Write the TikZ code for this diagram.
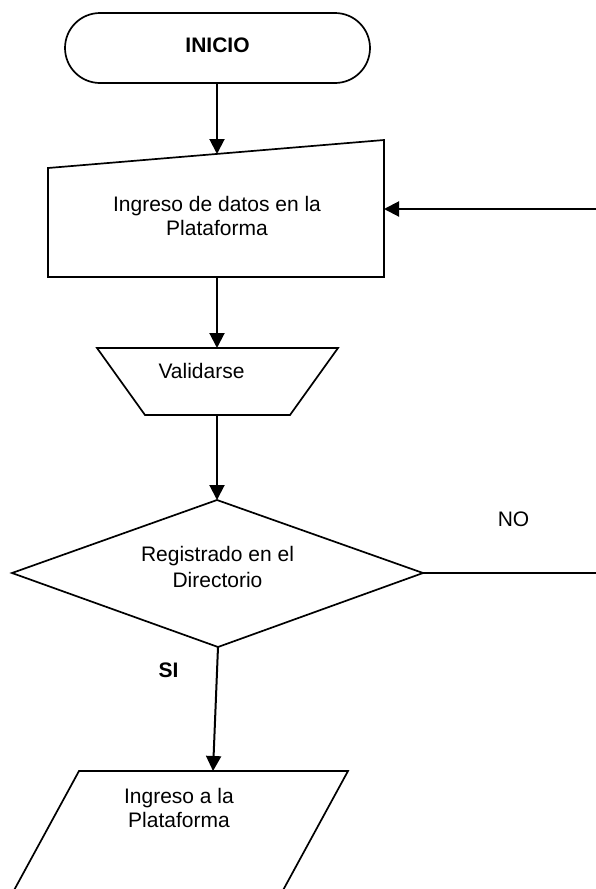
\documentclass[tikz,border=0pt]{standalone}
\usepackage{fontspec}
\setmainfont{Liberation Sans}
\usetikzlibrary{arrows.meta}
\tikzset{
  shapeline/.style={draw=black, line width=1.7pt, line join=miter},
  flowarrow/.style={draw=black, line width=2pt, -{Triangle[length=15pt,width=15pt]}},
  flowline/.style={draw=black, line width=1.8pt},
  lbl/.style={inner sep=0pt, anchor=base, align=center, font=\fontsize{21}{23.5}\selectfont},
  lbltall/.style={lbl, font=\fontsize{21}{26}\selectfont},
}
\begin{document}
\begin{tikzpicture}[x=1pt,y=-1pt]
\useasboundingbox (0,0) rectangle (596,889);
\fill[white] (0,0) rectangle (596,889);
\clip (0,0) rectangle (596,889);

% ---- shapes ----
% terminal
\draw[shapeline, rounded corners=35pt] (65,13) rectangle (370,83);
\coordinate (inicio-s) at (217,83);
% manual input
\draw[shapeline] (48,168) -- (384,140) -- (384,277) -- (48,277) -- cycle;
\coordinate (datos-n) at (217,154);
\coordinate (datos-s) at (217,277);
\coordinate (datos-e) at (384,209);
\coordinate (retorno) at (596,209);
% trapezoid
\draw[shapeline] (97,348) -- (338,348) -- (290,415) -- (145,415) -- cycle;
\coordinate (valid-n) at (217,348);
\coordinate (valid-s) at (217,415);
% diamond
\draw[shapeline] (217,500) -- (423,573) -- (218,647) -- (12,573) -- cycle;
\coordinate (dec-n) at (217,500);
\coordinate (dec-e) at (423,573);
\coordinate (dec-s) at (218,647);
\coordinate (noend) at (596,573);
% parallelogram
\draw[shapeline] (8.7,900) -- (79,771) -- (348,771) -- (277.7,900);
\coordinate (plat-n) at (213,771);

% ---- texts (base = baseline of the last line) ----
\node[lbl, font=\bfseries\fontsize{21}{23.5}\selectfont] (inicio) at (217.5,52) {INICIO};
\node[lbl] (datos) at (217,235) {Ingreso de datos en la\\Plataforma};
\node[lbl] (valid) at (201.5,378) {Validarse};
\node[lbltall] (dec) at (217.5,587) {Registrado en el\\Directorio};
\node[lbl] (no) at (513.5,526) {NO};
\node[lbl, font=\bfseries\fontsize{21}{23.5}\selectfont] (si) at (168.5,677) {SI};
\node[lbl] (plat) at (179,827) {Ingreso a la\\Plataforma};

% ---- connectors ----
\draw[flowarrow] (inicio-s) -- (datos-n);
\draw[flowarrow] (retorno) -- (datos-e);
\draw[flowarrow] (datos-s) -- (valid-n);
\draw[flowarrow] (valid-s) -- (dec-n);
\draw[flowline] (dec-e) -- (noend);
\draw[flowarrow] (dec-s) -- (plat-n);
\end{tikzpicture}
\end{document}
